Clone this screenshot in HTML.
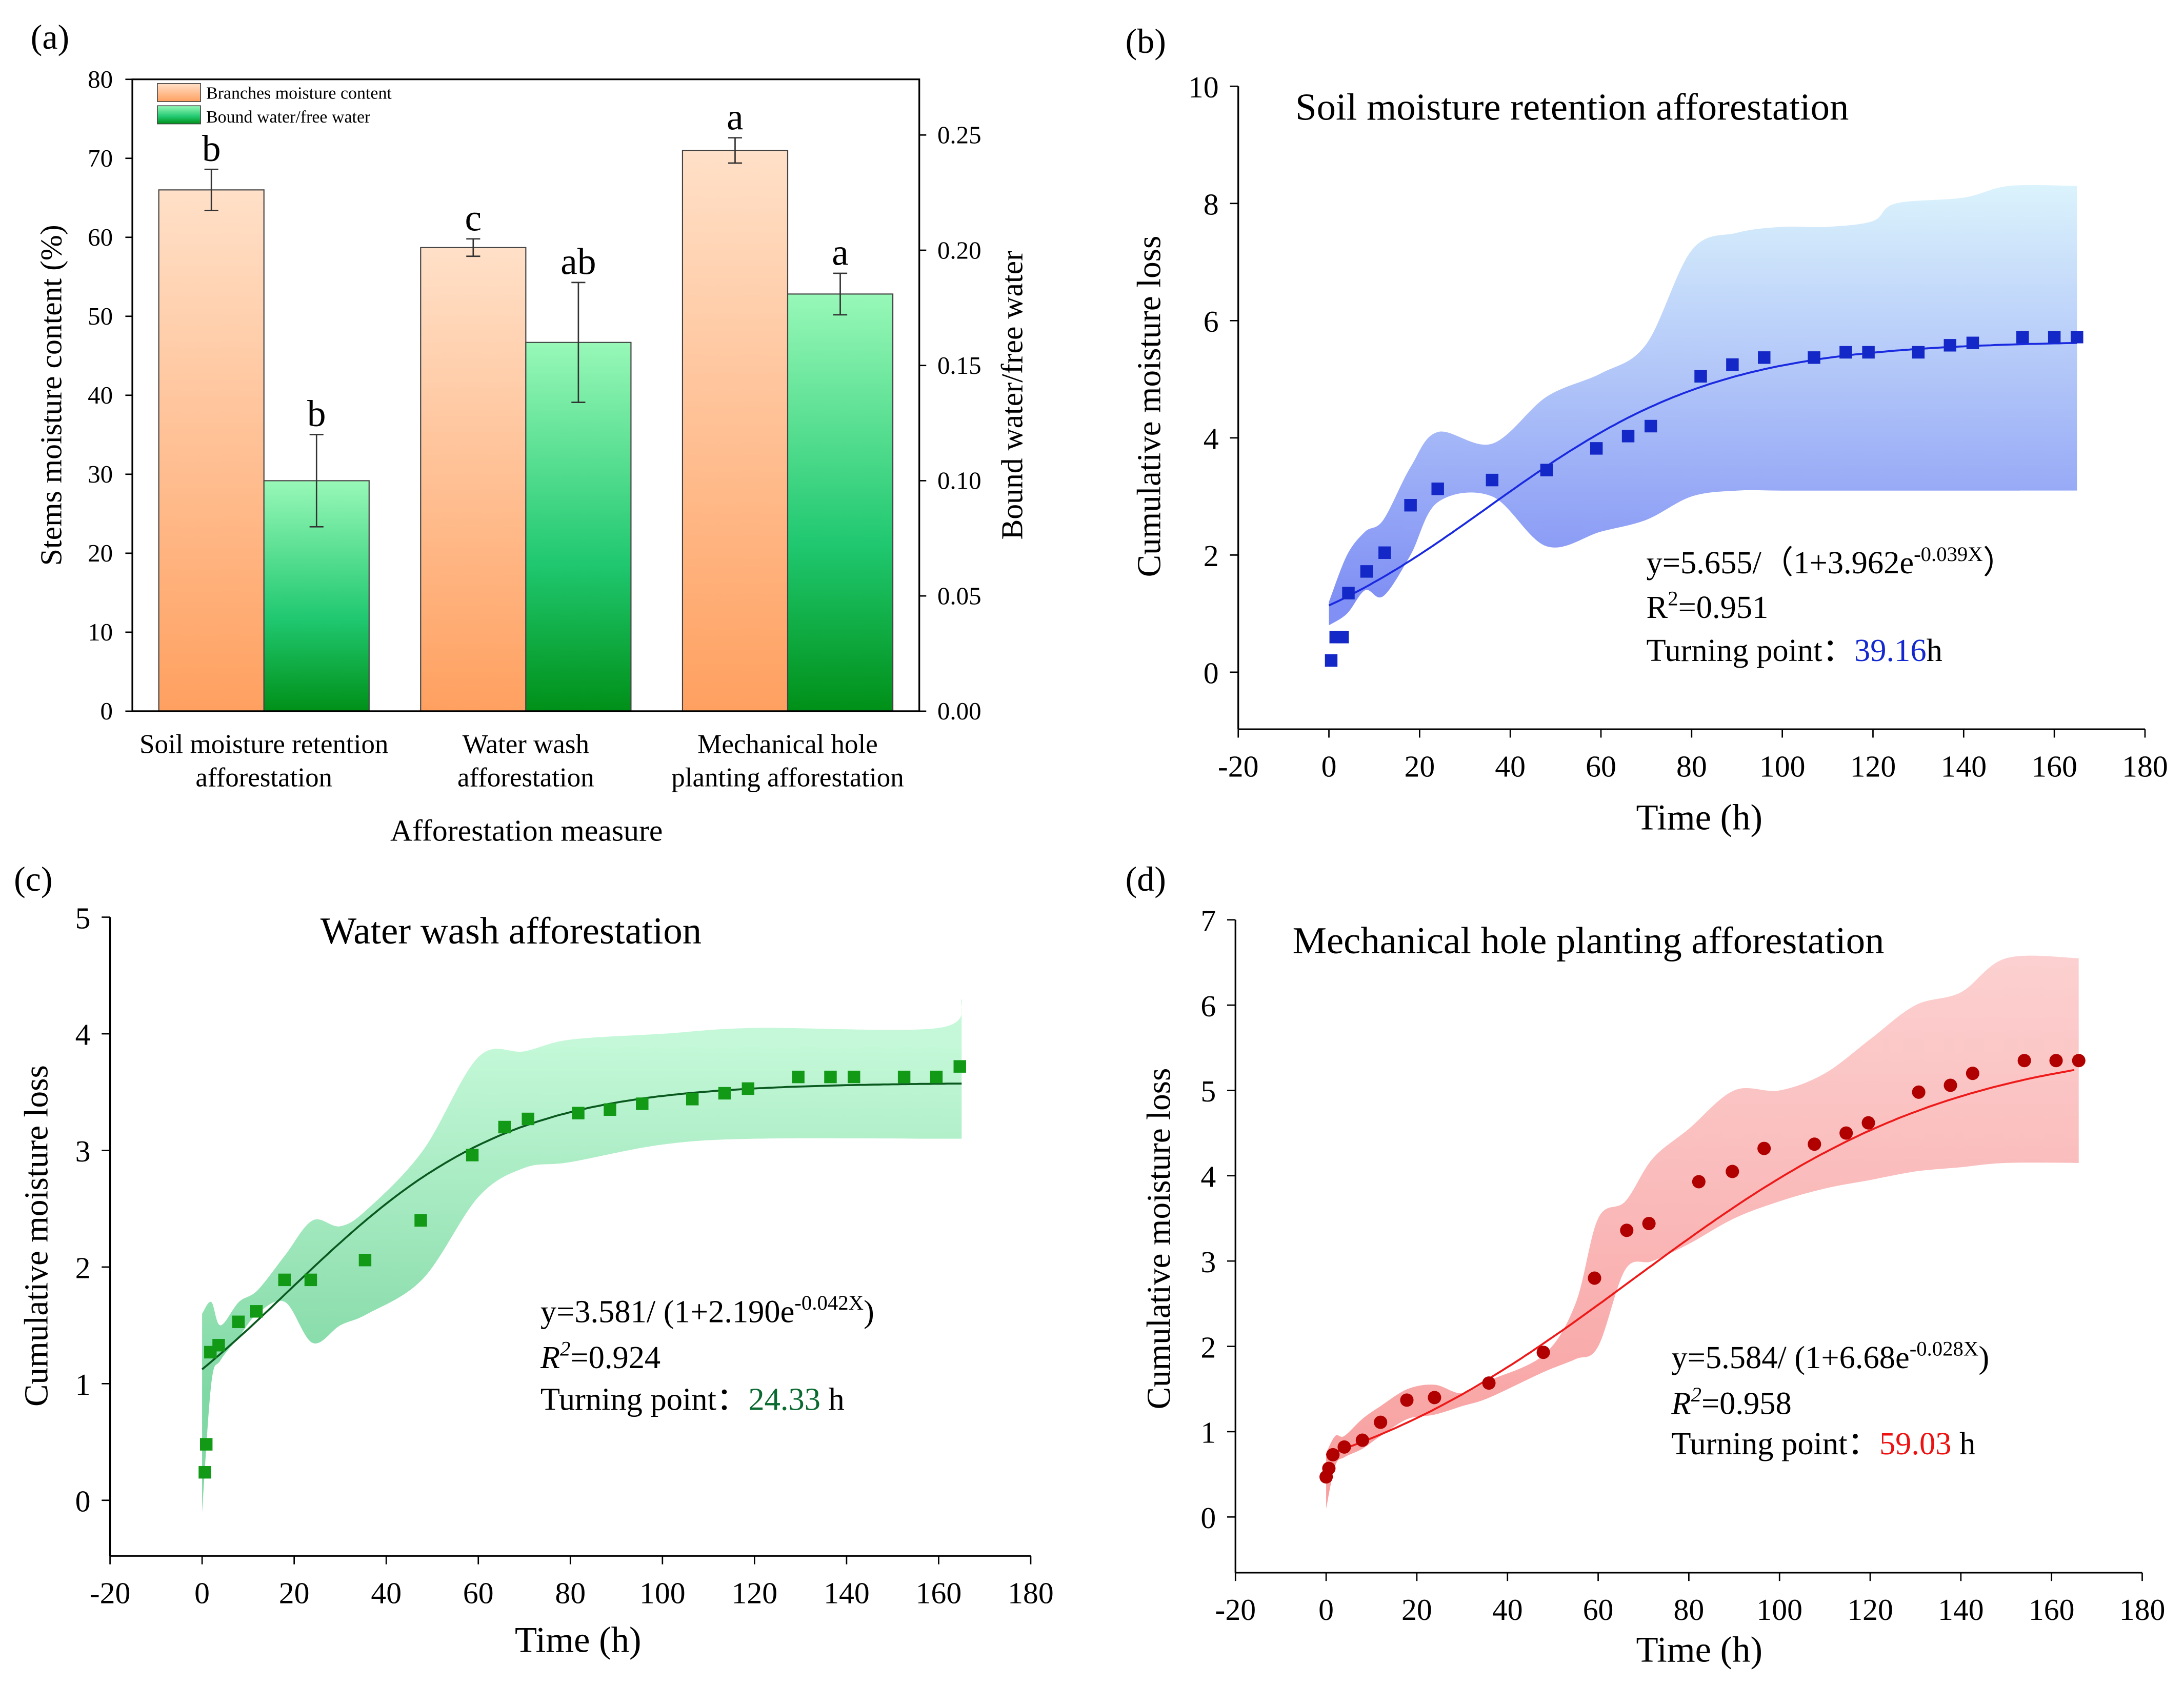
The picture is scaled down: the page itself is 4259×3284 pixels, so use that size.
<!DOCTYPE html>
<html><head><meta charset="utf-8"><style>
html,body{margin:0;padding:0;background:#fff}
svg{display:block;font-family:"Liberation Serif",serif}
</style></head><body>
<svg id="fig" xmlns="http://www.w3.org/2000/svg" width="4259" height="3284" viewBox="0 0 1568 1210" preserveAspectRatio="none">
<defs>
<linearGradient id="gOr" x1="0" y1="0" x2="0" y2="1"><stop offset="0" stop-color="#ffe0c8"/><stop offset="1" stop-color="#ffa060"/></linearGradient>
<linearGradient id="gGr" x1="0" y1="0" x2="0" y2="1"><stop offset="0" stop-color="#98f8b8"/><stop offset="0.6" stop-color="#20c870"/><stop offset="1" stop-color="#009018"/></linearGradient>
<linearGradient id="gB" gradientUnits="userSpaceOnUse" x1="0" y1="130" x2="0" y2="430"><stop offset="0" stop-color="#dcf4fc"/><stop offset="1" stop-color="#8090f4"/></linearGradient>
<linearGradient id="gC" gradientUnits="userSpaceOnUse" x1="0" y1="750" x2="0" y2="1000"><stop offset="0" stop-color="#c4f8d8"/><stop offset="1" stop-color="#80d8a4"/></linearGradient>
<linearGradient id="gD" gradientUnits="userSpaceOnUse" x1="0" y1="690" x2="0" y2="1060"><stop offset="0" stop-color="#fcd0d0"/><stop offset="1" stop-color="#f8a0a0"/></linearGradient>
</defs>
</svg>
<script>
// ---------- Panel (a) data ----------
const aCategories=[["Soil moisture retention","afforestation"],["Water wash","afforestation"],["Mechanical hole","planting afforestation"]];
const aMoisture=[66,58.7,71];
const aMoistureErr=[2.6,1.1,1.6];
const aMoistureLetters=["b","c","a"];
const aRatio=[0.100,0.160,0.181];
const aRatioErr=[0.020,0.026,0.009];
const aRatioLetters=["b","ab","a"];
const aLeftTicks=[0,10,20,30,40,50,60,70,80];
const aRightTicks=["0.00","0.05","0.10","0.15","0.20","0.25"];
// ---------- Panel (b) data ----------
const bTimes=[0.5,1.5,3,4.3,8.3,12.3,18,24,36,48,59,66,71,82,89,96,107,114,119,130,137,142,153,160,165];
const bLoss=[0.2,0.6,0.6,1.35,1.72,2.04,2.85,3.13,3.28,3.45,3.82,4.03,4.2,5.05,5.25,5.37,5.37,5.46,5.46,5.46,5.58,5.62,5.72,5.72,5.72];
const bBandT=[0,4,8,12,18,24,36,48,60,70,80,90,100,110,120,125,140,150,165];
const bUpper=[1.2,2.0,2.4,2.6,3.5,4.1,3.9,4.7,5.1,5.6,7.2,7.5,7.6,7.6,7.7,8.0,8.1,8.3,8.3];
const bLower=[0.8,1.0,1.4,1.3,2.0,2.9,3.0,2.15,2.4,2.6,3.0,3.1,3.1,3.1,3.1,3.1,3.1,3.1,3.1];
const bFit=[5.655,3.962,0.039];
// ---------- Panel (c) data ----------
const cTimes=[0.6,0.9,1.8,3.6,7.9,11.8,17.9,23.6,35.4,47.5,58.7,65.7,70.8,81.7,88.6,95.6,106.5,113.5,118.6,129.5,136.5,141.6,152.5,159.5,164.6];
const cLoss=[0.24,0.48,1.27,1.33,1.53,1.62,1.89,1.89,2.06,2.4,2.96,3.2,3.27,3.32,3.35,3.4,3.44,3.49,3.53,3.63,3.63,3.63,3.63,3.63,3.72];
const cBandT=[0,2,4,8,12,18,24,30,36,48,60,70,80,100,120,160,165];
const cUpper=[1.6,1.7,1.5,1.7,1.8,2.1,2.4,2.35,2.5,3.0,3.8,3.85,3.95,4.0,4.05,4.05,4.3];
const cLower=[-0.1,1.0,1.2,1.4,1.6,1.7,1.35,1.5,1.6,1.9,2.6,2.85,2.9,3.05,3.1,3.1,3.1];
const cFit=[3.581,2.190,0.042];
// ---------- Panel (d) data ----------
const dTimes=[0,0.6,1.5,4,8,12,17.8,23.9,35.9,47.9,59.2,66.3,71.2,82.2,89.6,96.6,107.7,114.7,119.6,130.7,137.7,142.6,154,161,166];
const dLoss=[0.47,0.57,0.73,0.82,0.9,1.11,1.37,1.4,1.57,1.93,2.8,3.36,3.44,3.93,4.05,4.32,4.37,4.5,4.62,4.98,5.06,5.2,5.35,5.35,5.35];
const dBandT=[0,2,4,8,12,18,24,30,36,48,55,60,66,72,80,90,100,110,120,130,140,150,166];
const dUpper=[0.75,0.95,0.95,1.15,1.3,1.5,1.55,1.45,1.6,1.9,2.5,3.5,3.7,4.2,4.55,5.0,5.0,5.2,5.6,6.0,6.15,6.55,6.55];
const dLower=[0.1,0.6,0.7,0.8,0.95,1.15,1.2,1.3,1.4,1.7,1.85,2.0,2.9,3.0,3.2,3.5,3.7,3.85,3.95,4.05,4.1,4.15,4.15];
const dFit=[5.584,6.68,0.028];
const xTicks=[-20,0,20,40,60,80,100,120,140,160,180];

const NS="http://www.w3.org/2000/svg";
const svg=document.getElementById('fig');
function mk(tag,attrs,parent){const e=document.createElementNS(NS,tag);for(const k in attrs)e.setAttribute(k,attrs[k]);(parent||svg).appendChild(e);return e;}
function txt(s,x,y,size,anchor,parent,extra){const t=mk('text',Object.assign({x:x,y:y,'font-size':size,'text-anchor':anchor||'start',fill:'#000'},extra||{}),parent);t.textContent=s;return t;}
function smooth(pts,start){ // Catmull-Rom to bezier
  let d=(start?'M':'L')+pts[0][0]+','+pts[0][1];
  for(let i=0;i<pts.length-1;i++){
    const p0=pts[Math.max(0,i-1)],p1=pts[i],p2=pts[i+1],p3=pts[Math.min(pts.length-1,i+2)];
    const c1=[p1[0]+(p2[0]-p0[0])/6,p1[1]+(p2[1]-p0[1])/6];
    const c2=[p2[0]-(p3[0]-p1[0])/6,p2[1]-(p3[1]-p1[1])/6];
    d+=`C${c1[0].toFixed(1)},${c1[1].toFixed(1)} ${c2[0].toFixed(1)},${c2[1].toFixed(1)} ${p2[0].toFixed(1)},${p2[1].toFixed(1)}`;
  }
  return d;
}

// ===== Panel (a) =====
(function(){
  const g=mk('g',{});
  
  
  const L=95,R=660,T=57,B=511;
  const yL=v=>B-(v/80)*(B-T);
  const yR=v=>B-(v/0.05)*82.8;
  const lab=txt('(a)',22,35,25,'start',g);
  
  
  const groupX=[114,302,490], bw=75.5;
  for(let i=0;i<3;i++){
    const x0=groupX[i];
    const b1=mk('rect',{x:x0,y:yL(aMoisture[i]),width:bw,height:B-yL(aMoisture[i]),fill:'url(#gOr)',stroke:'#444','stroke-width':0.8},g);
    
    
    const b2=mk('rect',{x:x0+bw,y:yR(aRatio[i]),width:bw,height:B-yR(aRatio[i]),fill:'url(#gGr)',stroke:'#444','stroke-width':0.8},g);
    
    
    const c1=x0+bw/2, t1=yL(aMoisture[i]+aMoistureErr[i]), u1=yL(aMoisture[i]-aMoistureErr[i]);
    mk('path',{d:`M${c1},${t1}V${u1}M${c1-5},${t1}H${c1+5}M${c1-5},${u1}H${c1+5}`,stroke:'#333','stroke-width':1,fill:'none'},g);
    const c2=x0+bw*1.5, t2=yR(aRatio[i]+aRatioErr[i]), u2=yR(aRatio[i]-aRatioErr[i]);
    mk('path',{d:`M${c2},${t2}V${u2}M${c2-5},${t2}H${c2+5}M${c2-5},${u2}H${c2+5}`,stroke:'#333','stroke-width':1,fill:'none'},g);
    txt(aMoistureLetters[i],c1,t1-6,27,'middle',g);
    txt(aRatioLetters[i],c2,t2-6,27,'middle',g);
    const cx=x0+bw;
    txt(aCategories[i][0],cx,541,19.5,'middle',g);
    txt(aCategories[i][1],cx,565,19.5,'middle',g);
  }
  mk('rect',{x:L,y:T,width:R-L,height:B-T,fill:'none',stroke:'#000','stroke-width':1.2},g);
  aLeftTicks.forEach(v=>{const y=yL(v);mk('line',{x1:L-5,x2:L,y1:y,y2:y,stroke:'#000'},g);txt(String(v),L-14,y+6,18,'end',g);});
  aRightTicks.forEach(s=>{const y=yR(parseFloat(s));mk('line',{x1:R,x2:R+5,y1:y,y2:y,stroke:'#000'},g);txt(s,R+13,y+6,18,'start',g);});
  const yt=txt('Stems moisture content (%)',0,0,22,'middle',g,{transform:'translate(44,284) rotate(-90)'});
  
  
  const rt=txt('Bound water/free water',0,0,22,'middle',g,{transform:'translate(734,284) rotate(-90)'});
  
  
  const xt=txt('Afforestation measure',378,604,22,'middle',g);
  
  
  const lg=mk('g',{},g);
  
  
  mk('rect',{x:113,y:60,width:31,height:13,fill:'url(#gOr)',stroke:'#444','stroke-width':0.6},lg);
  mk('rect',{x:113,y:76,width:31,height:13,fill:'url(#gGr)',stroke:'#444','stroke-width':0.6},lg);
  txt('Branches moisture content',148,71,12.5,'start',lg);
  txt('Bound water/free water',148,88,12.5,'start',lg);
})();

// ===== Line panels =====
function panel(cfg){
  const g=mk('g',{});
  
  
  const X=t=>cfg.x0+(t-(-20))*(cfg.x1-cfg.x0)/200;
  const Y=v=>cfg.yz-v*cfg.ypu;
  const lab=txt(cfg.label,cfg.labX,cfg.labY,25,'start',g);
  
  
  const up=cfg.bandT.map((t,i)=>[X(t),Y(cfg.upper[i])]);
  const lo=cfg.bandT.map((t,i)=>[X(t),Y(cfg.lower[i])]).reverse();
  const band=mk('path',{d:smooth(up,true)+smooth(lo,false)+'Z',fill:cfg.bandFill,stroke:'none'},g);
  
  
  const [A,Bc,k]=cfg.fit; let fd='';
  for(let t=0;t<=165;t+=1){const v=A/(1+Bc*Math.exp(-k*t));fd+=(t?'L':'M')+X(t).toFixed(1)+','+Y(v).toFixed(1);}
  const fit=mk('path',{d:fd,fill:'none',stroke:cfg.lineColor,'stroke-width':1.4},g);
  
  
  cfg.times.forEach((t,i)=>{
    let p;
    if(cfg.circle)p=mk('circle',{cx:X(t),cy:Y(cfg.vals[i]),r:4.8,fill:cfg.markColor},g);
    else p=mk('rect',{x:X(t)-4.5,y:Y(cfg.vals[i])-4.5,width:9,height:9,fill:cfg.markColor},g);
    
    
  });
  const top=Y(cfg.ymax), bot=cfg.axisBottom;
  mk('line',{x1:cfg.x0,x2:cfg.x0,y1:top,y2:bot,stroke:'#000','stroke-width':1.2},g);
  mk('line',{x1:cfg.x0,x2:X(180),y1:bot,y2:bot,stroke:'#000','stroke-width':1.2},g);
  xTicks.forEach(t=>{const x=X(t);mk('line',{x1:x,x2:x,y1:bot,y2:bot+6,stroke:'#000'},g);txt(String(t),x,bot+34,22,'middle',g);});
  for(let v=0;v<=cfg.ymax;v+=cfg.ystep){const y=Y(v);mk('line',{x1:cfg.x0-6,x2:cfg.x0,y1:y,y2:y,stroke:'#000'},g);txt(String(v),cfg.x0-14,y+8,22,'end',g);}
  const xt=txt('Time (h)',cfg.timeX,cfg.timeY,26,'middle',g);
  
  
  const yt=txt('Cumulative moisture loss',0,0,24,'middle',g,{transform:`translate(${cfg.ytX},${cfg.ytY}) rotate(-90)`});
  
  
  const tt=txt(cfg.title,cfg.titleX,cfg.titleY,27.5,'start',g);
  
  
  const eg=mk('g',{},g);
  
  
  const e1=mk('text',{x:cfg.eqX,y:cfg.eqY[0],'font-size':23,fill:'#000'},eg);
  e1.innerHTML=cfg.eq1;
  const e2=mk('text',{x:cfg.eqX,y:cfg.eqY[1],'font-size':23,fill:'#000'},eg);
  e2.innerHTML=cfg.eq2;
  const e3=mk('text',{x:cfg.eqX,y:cfg.eqY[2],'font-size':23,fill:'#000'},eg);
  e3.innerHTML=cfg.eq3;
}
panel({name:'panel-b-line-chart',label:'(b)',labX:808,labY:38,x0:889,x1:1540,yz:483,ypu:42.1,ymax:10,ystep:2,axisBottom:524,
  bandT:bBandT,upper:bUpper,lower:bLower,fit:bFit,times:bTimes,vals:bLoss,bandFill:'url(#gB)',lineColor:'#1a2ae0',markColor:'#1428c8',circle:false,
  timeX:1220,timeY:596,ytX:833,ytY:292,title:'Soil moisture retention afforestation',titleX:930,titleY:86,eqX:1182,eqY:[412,444,475],
  eq1:'y=5.655/（1+3.962e<tspan dy="-9" font-size="15">-0.039X</tspan><tspan dy="9">）</tspan>',
  eq2:'R<tspan dy="-9" font-size="15">2</tspan><tspan dy="9">=0.951</tspan>',
  eq3:'Turning point：<tspan fill="#1428d0">39.16</tspan>h'});
panel({name:'panel-c-line-chart',label:'(c)',labX:10,labY:640,x0:79,x1:740,yz:1078,ypu:83.8,ymax:5,ystep:1,axisBottom:1118,
  bandT:cBandT,upper:cUpper,lower:cLower,fit:cFit,times:cTimes,vals:cLoss,bandFill:'url(#gC)',lineColor:'#0a5a20',markColor:'#129a16',circle:false,
  timeX:415,timeY:1187,ytX:34,ytY:888,title:'Water wash afforestation',titleX:230,titleY:678,eqX:388,eqY:[950,983,1013],
  eq1:'y=3.581/ (1+2.190e<tspan dy="-9" font-size="15">-0.042X</tspan><tspan dy="9">)</tspan>',
  eq2:'<tspan font-style="italic">R</tspan><tspan dy="-9" font-size="15" font-style="italic">2</tspan><tspan dy="9">=0.924</tspan>',
  eq3:'Turning point：<tspan fill="#0a6a30">24.33</tspan> h'});
panel({name:'panel-d-line-chart',label:'(d)',labX:808,labY:640,x0:887,x1:1538,yz:1090,ypu:61.3,ymax:7,ystep:1,axisBottom:1130,
  bandT:dBandT,upper:dUpper,lower:dLower,fit:dFit,times:dTimes,vals:dLoss,bandFill:'url(#gD)',lineColor:'#ee1a1a',markColor:'#b00000',circle:true,
  timeX:1220,timeY:1194,ytX:840,ytY:890,title:'Mechanical hole planting afforestation',titleX:928,titleY:685,eqX:1200,eqY:[983,1016,1045],
  eq1:'y=5.584/ (1+6.68e<tspan dy="-9" font-size="15">-0.028X</tspan><tspan dy="9">)</tspan>',
  eq2:'<tspan font-style="italic">R</tspan><tspan dy="-9" font-size="15" font-style="italic">2</tspan><tspan dy="9">=0.958</tspan>',
  eq3:'Turning point：<tspan fill="#ee1111">59.03</tspan> h'});
</script>
</body></html>
